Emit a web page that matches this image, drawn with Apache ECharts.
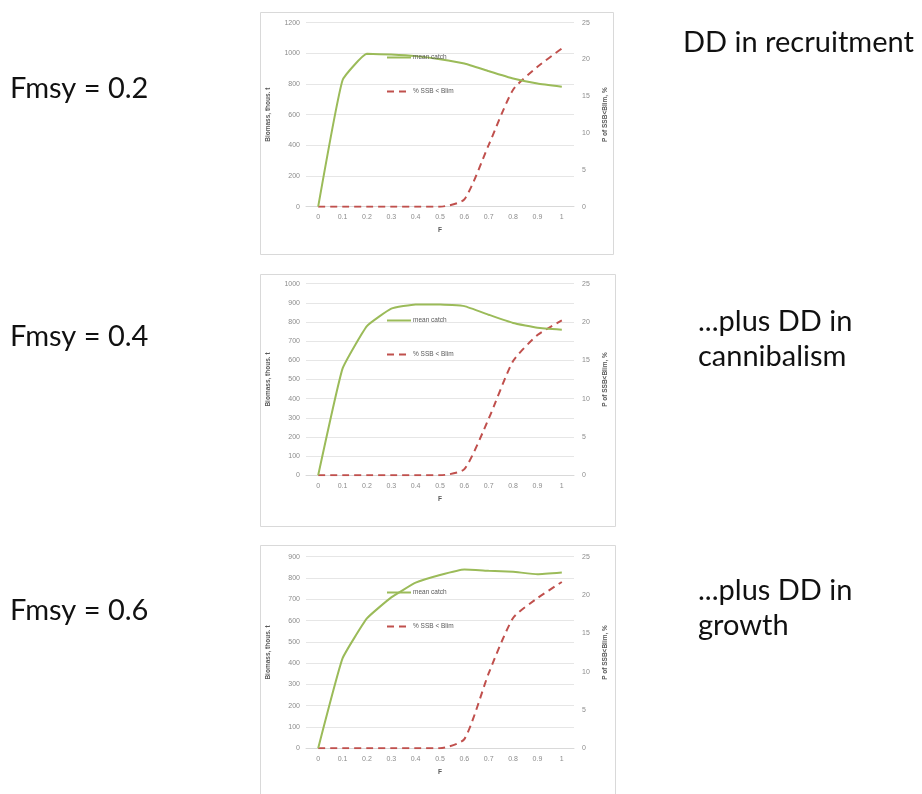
<!DOCTYPE html>
<html>
<head>
<meta charset="utf-8">
<script src="https://cdn.jsdelivr.net/npm/echarts@6/dist/echarts.min.js"></script>
<style>
html,body{margin:0;padding:0;background:#fff;}
#main{width:922px;height:794px;}
</style>
</head>
<body>
<div id="main"></div>
<script>
const fValues = ['0','0.1','0.2','0.3','0.4','0.5','0.6','0.7','0.8','0.9','1'];

const catch1 = [0, 825, 997, 992, 982, 962, 934, 884, 836, 803, 782];
const ssb1   = [0, 0, 0, 0, 0, 0, 1.0, 8.4, 15.9, 19.0, 21.5];

const catch2 = [0, 557, 779, 870, 892, 892, 883, 838, 795, 770, 760];
const ssb2   = [0, 0, 0, 0, 0, 0, 0.8, 7.4, 14.9, 18.3, 20.2];

const catch3 = [0, 422, 610, 709, 778, 814, 840, 834, 829, 818, 826];
const ssb3   = [0, 0, 0, 0, 0, 0, 1.2, 9.8, 17.0, 19.6, 21.7];

const leftMax = [1200, 1000, 900];
const leftInterval = [200, 100, 100];
const rightMax = 25;
const rightInterval = 5;

const seriesNames = ['mean catch', '% SSB < Blim'];
const leftAxisName = 'Biomass, thous. t';
const rightAxisName = 'P of SSB<Blim, %';
const xAxisName = 'F';

const fmsyLabels = ['Fmsy = 0.2', 'Fmsy = 0.4', 'Fmsy = 0.6'];
const sideLabels = ['DD in recruitment', '...plus DD in\ncannibalism', '...plus DD in\ngrowth'];

const catchData = [catch1, catch2, catch3];
const ssbData = [ssb1, ssb2, ssb3];

// layout (pixels)
const grids = [
  {left: 306, top: 22.7, width: 268, height: 184},
  {left: 306, top: 283.7, width: 268, height: 191.6},
  {left: 306, top: 556.7, width: 268, height: 191.6}
];
const boxes = [
  {x: 260.5, y: 12.5, w: 353, h: 242},
  {x: 260.5, y: 274.5, w: 355, h: 252},
  {x: 260.5, y: 545.5, w: 355, h: 260}
];
const legendTops = [54, 317, 589];
const fmsyY = [91, 339, 613];
const sideLabelPos = [{x: 683, y: 42}, {x: 698, y: 339}, {x: 698, y: 608}];

const tickFont = {color: '#8c8c8c', fontSize: 7, fontFamily: 'Liberation Sans'};
const axisNameFont = {color: '#595959', fontSize: 6.5, fontWeight: 'bold', fontFamily: 'Liberation Sans'};

const chart = echarts.init(document.getElementById('main'), null, {renderer: 'canvas'});

const option = {
  backgroundColor: '#ffffff',
  animation: false,
  grid: grids.map(g => Object.assign({containLabel: false}, g)),
  xAxis: grids.map((g, i) => ({
    type: 'category',
    gridIndex: i,
    data: fValues,
    boundaryGap: true,
    name: xAxisName,
    nameLocation: 'middle',
    nameGap: 20,
    nameTextStyle: axisNameFont,
    axisLine: {show: true, lineStyle: {color: '#d9d9d9', width: 1}},
    axisTick: {show: false},
    axisLabel: Object.assign({margin: 7, interval: 0}, tickFont),
    splitLine: {show: false}
  })),
  yAxis: [],
  legend: grids.map((g, i) => ({
    orient: 'vertical',
    left: 386,
    top: legendTops[i],
    padding: 0,
    itemWidth: 24,
    itemHeight: 7,
    itemGap: 27,
    data: seriesNames,
    selectedMode: false,
    itemStyle: {opacity: 0},
    textStyle: {color: '#595959', fontSize: 6.5, fontFamily: 'Liberation Sans', padding: [0,0,0,-3]}
  })),
  series: [],
  graphic: []
};

grids.forEach((g, i) => {
  option.yAxis.push({
    type: 'value',
    gridIndex: i,
    position: 'left',
    min: 0,
    max: leftMax[i],
    interval: leftInterval[i],
    name: leftAxisName,
    nameLocation: 'middle',
    nameGap: 34,
    nameRotate: 90,
    nameTextStyle: axisNameFont,
    axisLine: {show: false},
    axisTick: {show: false},
    axisLabel: Object.assign({margin: 6, formatter: v => String(v)}, tickFont),
    splitLine: {show: true, lineStyle: {color: '#e6e6e6', width: 1}}
  });
  option.yAxis.push({
    type: 'value',
    gridIndex: i,
    position: 'right',
    min: 0,
    max: rightMax,
    interval: rightInterval,
    name: rightAxisName,
    nameLocation: 'middle',
    nameGap: 28,
    nameRotate: 90,
    nameTextStyle: axisNameFont,
    axisLine: {show: false},
    axisTick: {show: false},
    axisLabel: Object.assign({margin: 8, formatter: v => String(v)}, tickFont),
    splitLine: {show: false}
  });
  option.series.push({
    name: seriesNames[0],
    type: 'line',
    xAxisIndex: i,
    yAxisIndex: 2 * i,
    data: catchData[i],
    symbol: 'none',
    smooth: 0.12,
    lineStyle: {color: '#9bbb59', width: 2},
    itemStyle: {color: '#9bbb59'},
    z: 3
  });
  option.series.push({
    name: seriesNames[1],
    type: 'line',
    xAxisIndex: i,
    yAxisIndex: 2 * i + 1,
    data: ssbData[i],
    symbol: 'none',
    smooth: 0.2,
    lineStyle: {color: '#c0504d', width: 2, type: [7, 5]},
    itemStyle: {color: '#c0504d'},
    z: 2
  });
  option.graphic.push({
    type: 'rect',
    shape: {x: boxes[i].x, y: boxes[i].y, width: boxes[i].w, height: boxes[i].h},
    style: {fill: 'none', stroke: '#d9d9d9', lineWidth: 1},
    z: -10, silent: true
  });
  option.graphic.push({
    type: 'text',
    left: 10,
    top: fmsyY[i] - 17,
    style: {text: fmsyLabels[i], fill: '#111111', font: '29px Lato', textVerticalAlign: 'top'},
    silent: true
  });
  option.graphic.push({
    type: 'text',
    left: sideLabelPos[i].x,
    top: sideLabelPos[i].y - (sideLabels[i].indexOf('\n') >= 0 ? 35 : 17),
    style: {text: sideLabels[i], fill: '#111111', font: '29px Lato', lineHeight: 35, textVerticalAlign: 'top'},
    silent: true
  });
});

chart.setOption(option);
</script>
</body>
</html>
